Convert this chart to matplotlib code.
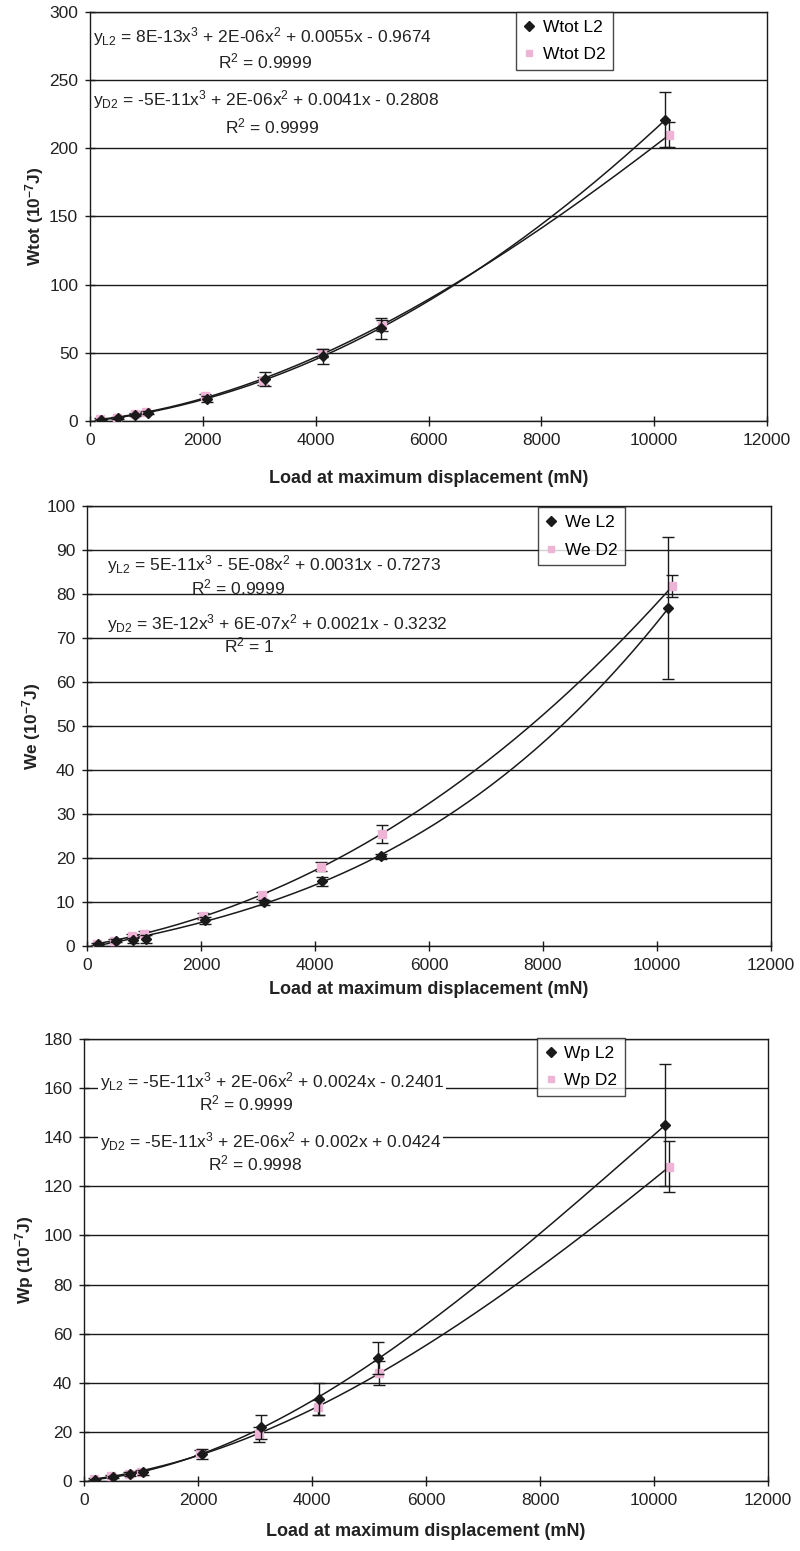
import numpy as np
import matplotlib
matplotlib.use("Agg")
import matplotlib.pyplot as plt
from matplotlib.lines import Line2D

plt.rcParams['font.family'] = ['Liberation Sans', 'DejaVu Sans']
plt.rcParams['mathtext.fontset'] = 'custom'
plt.rcParams['mathtext.rm'] = 'Liberation Sans'
plt.rcParams['mathtext.it'] = 'Liberation Sans'
plt.rcParams['mathtext.bf'] = 'Liberation Sans:bold'

# ---- data -------------------------------------------------------------
x_L2 = [200, 500, 800, 1030, 2070, 3100, 4130, 5150, 10200]
x_D2 = [180, 480, 790, 1000, 2040, 3070, 4110, 5170, 10270]

wtot_L2 = [1.0, 2.5, 4.5, 6.0, 16.0, 31.0, 47.5, 68.0, 221.0]
wtot_L2_err = [0.5, 0.8, 1.0, 1.2, 2.0, 5.0, 5.5, 7.5, 20.0]
wtot_D2 = [1.5, 2.2, 5.0, 6.5, 18.0, 29.5, 50.0, 70.0, 210.0]
wtot_D2_err = [0.5, 0.5, 0.8, 1.0, 1.5, 3.0, 3.0, 4.0, 9.0]

we_L2 = [0.5, 1.2, 1.3, 1.6, 5.8, 9.9, 14.7, 20.4, 76.8]
we_L2_err = [0.2, 0.3, 0.6, 1.0, 0.8, 0.6, 1.0, 0.6, 16.2]
we_D2 = [0.5, 1.2, 2.3, 2.8, 6.8, 11.5, 18.0, 25.5, 81.8]
we_D2_err = [0.2, 0.3, 0.4, 0.5, 0.6, 0.8, 1.0, 2.0, 2.5]

wp_L2 = [0.5, 1.6, 3.0, 3.6, 11.0, 22.0, 33.5, 50.0, 145.0]
wp_L2_err = [0.3, 0.5, 0.8, 1.0, 2.0, 5.0, 6.5, 6.5, 25.0]
wp_D2 = [0.8, 2.0, 3.0, 3.8, 11.5, 19.0, 30.0, 44.0, 128.0]
wp_D2_err = [0.3, 0.5, 0.5, 0.6, 1.0, 3.0, 3.0, 5.0, 10.5]

x_ticks = [0, 2000, 4000, 6000, 8000, 10000, 12000]
x_label = "Load at maximum displacement (mN)"

panels = [
    dict(name="Wtot", yL=wtot_L2, eL=wtot_L2_err, yD=wtot_D2, eD=wtot_D2_err,
         ymax=300, ystep=50,
         eqL=r"y$_\mathrm{L2}$ = 8E-13x$^\mathrm{3}$ + 2E-06x$^\mathrm{2}$ + 0.0055x - 0.9674",
         rL=r"R$^\mathrm{2}$ = 0.9999",
         eqD=r"y$_\mathrm{D2}$ = -5E-11x$^\mathrm{3}$ + 2E-06x$^\mathrm{2}$ + 0.0041x - 0.2808",
         rD=r"R$^\mathrm{2}$ = 0.9999",
         rect=(90, 12, 767, 421),
         eq_pos=(0.004, 0.939, 0.259, 0.878, 0.004, 0.785, 0.269, 0.719),
         leg=(0.629, 1.0), white=False, xpad=16, ypad=2),
    dict(name="We", yL=we_L2, eL=we_L2_err, yD=we_D2, eD=we_D2_err,
         ymax=100, ystep=10,
         eqL=r"y$_\mathrm{L2}$ = 5E-11x$^\mathrm{3}$ - 5E-08x$^\mathrm{2}$ + 0.0031x - 0.7273",
         rL=r"R$^\mathrm{2}$ = 0.9999",
         eqD=r"y$_\mathrm{D2}$ = 3E-12x$^\mathrm{3}$ + 6E-07x$^\mathrm{2}$ + 0.0021x - 0.3232",
         rD=r"R$^\mathrm{2}$ = 1",
         rect=(87, 506, 771, 946),
         eq_pos=(0.029, 0.866, 0.221, 0.816, 0.029, 0.732, 0.237, 0.682),
         leg=(0.659, 0.997), white=False, xpad=6, ypad=2),
    dict(name="Wp", yL=wp_L2, eL=wp_L2_err, yD=wp_D2, eD=wp_D2_err,
         ymax=180, ystep=20,
         eqL=r"y$_\mathrm{L2}$ = -5E-11x$^\mathrm{3}$ + 2E-06x$^\mathrm{2}$ + 0.0024x - 0.2401",
         rL=r"R$^\mathrm{2}$ = 0.9999",
         eqD=r"y$_\mathrm{D2}$ = -5E-11x$^\mathrm{3}$ + 2E-06x$^\mathrm{2}$ + 0.002x + 0.0424",
         rD=r"R$^\mathrm{2}$ = 0.9998",
         rect=(84, 1039, 768, 1481),
         eq_pos=(0.023, 0.903, 0.237, 0.855, 0.023, 0.767, 0.25, 0.719),
         leg=(0.663, 1.003), white=True, xpad=11, ypad=5),
]

W, H = 800, 1551
fig = plt.figure(figsize=(W / 100, H / 100), dpi=100)

PINK = "#eeb4d6"
INK = "#1a1a1a"
FS = 12.5

for p in panels:
    l, t, r, b = p["rect"]
    ax = fig.add_axes([l / W, 1 - b / H, (r - l) / W, (b - t) / H])
    ax.set_xlim(0, 12000)
    ax.set_ylim(0, p["ymax"])
    ax.set_xticks(x_ticks)
    ax.set_yticks(np.arange(0, p["ymax"] + 1, p["ystep"]))
    ax.yaxis.grid(True, color=INK, linewidth=1.0)
    ax.set_axisbelow(True)
    for s in ax.spines.values():
        s.set_color(INK)
        s.set_linewidth(1.0)
    ax.tick_params(axis="both", direction="inout", length=7, width=1,
                   color=INK, labelsize=FS, labelcolor="#222222", pad=5)

    # polynomial (3rd order) trendlines through each series
    for xs, ys in ((x_L2, p["yL"]), (x_D2, p["yD"])):
        c = np.polyfit(xs, ys, 3)
        xx = np.linspace(min(xs), max(xs), 300)
        ax.plot(xx, np.polyval(c, xx), color=INK, linewidth=1.1, zorder=3)

    ax.errorbar(x_D2, p["yD"], yerr=p["eD"], fmt="s", color=PINK, ms=5.5,
                ecolor=INK, elinewidth=1.0, capsize=4, capthick=1.0, zorder=4)
    ax.errorbar(x_L2, p["yL"], yerr=p["eL"], fmt="D", color=INK, ms=5.5,
                ecolor=INK, elinewidth=1.0, capsize=4, capthick=1.0, zorder=5)

    ex1, ey1, rx1, ry1, ex2, ey2, rx2, ry2 = p["eq_pos"]
    bbox = dict(facecolor="white", edgecolor="none", pad=1.0) if p["white"] else None
    ax.text(ex1, ey1, p["eqL"], transform=ax.transAxes, fontsize=FS,
            ha="left", va="center", color="#222222", bbox=bbox, zorder=6)
    ax.text(rx1, ry1, p["rL"], transform=ax.transAxes, fontsize=FS,
            ha="center", va="center", color="#222222", bbox=bbox, zorder=6)
    ax.text(ex2, ey2, p["eqD"], transform=ax.transAxes, fontsize=FS,
            ha="left", va="center", color="#222222", bbox=bbox, zorder=6)
    ax.text(rx2, ry2, p["rD"], transform=ax.transAxes, fontsize=FS,
            ha="center", va="center", color="#222222", bbox=bbox, zorder=6)

    handles = [
        Line2D([], [], marker="D", color=INK, linestyle="none", markersize=5),
        Line2D([], [], marker="s", color=PINK, linestyle="none", markersize=5),
    ]
    leg = ax.legend(handles, [f"{p['name']} L2", f"{p['name']} D2"],
                    loc="upper left", bbox_to_anchor=p["leg"], fontsize=FS,
                    frameon=True, fancybox=False, edgecolor=INK,
                    handlelength=0.6, handletextpad=0.5, borderpad=0.45,
                    labelspacing=0.7, borderaxespad=0.0)
    leg.get_frame().set_linewidth(1.0)
    leg.set_zorder(10)

    ax.set_xlabel(x_label, fontsize=13, fontweight="bold", labelpad=p["xpad"],
                  color="#222222")
    ax.set_ylabel(p["name"] + r" (10$^{\mathbf{-7}}$J)", fontsize=12.5,
                  fontweight="bold", labelpad=p["ypad"], color="#222222")

fig.savefig("out.png", dpi=100, facecolor="white")
